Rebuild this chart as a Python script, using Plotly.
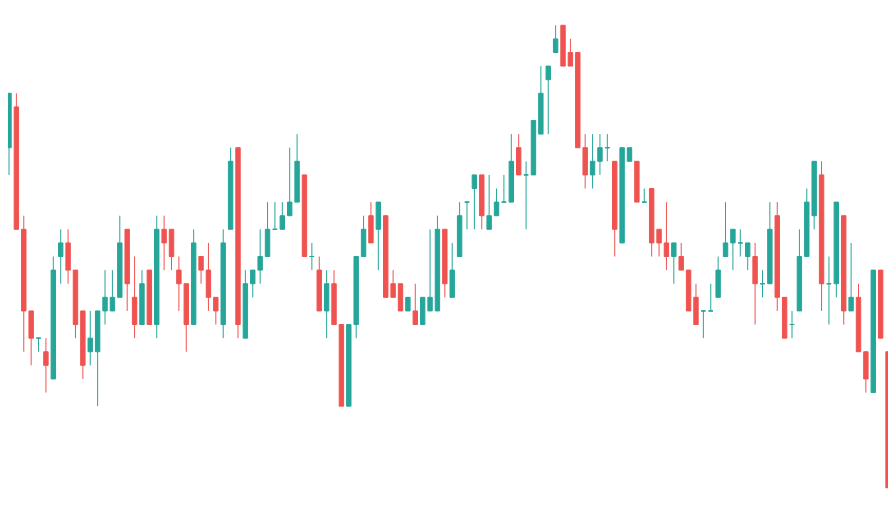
import plotly.graph_objects as go

# one entry per candle, left to right
opens = [25, 28, 19, 13, 11, 10, 8, 17, 18, 16, 13, 10, 10, 13, 13, 14, 19, 14, 12, 16,
         12, 19, 19, 16, 15, 12, 17, 16, 14, 12, 19, 25, 11, 15, 16, 17, 19, 19, 20, 21,
         23, 17, 16, 13, 15, 12, 6, 12, 17, 20, 19, 20, 15, 15, 13, 13, 12, 13, 13, 19,
         14, 17, 21, 22, 23, 19, 20, 21, 21, 25, 23, 23, 26, 30, 32, 34, 32, 32, 25, 23,
         24, 25, 24, 18, 24, 24, 21, 22, 19, 18, 17, 17, 16, 14, 13, 13, 14, 17, 18, 18,
         17, 17, 15, 15, 20, 14, 12, 13, 17, 20, 23, 15, 15, 20, 13, 14, 10, 7, 16, 10]
highs = [29, 29, 20, 13, 11, 11, 17, 19, 19, 16, 13, 13, 13, 16, 16, 20, 19, 17, 16, 16,
         20, 20, 19, 17, 15, 19, 17, 18, 14, 19, 25, 25, 16, 16, 19, 21, 21, 21, 25, 26,
         23, 18, 17, 16, 16, 12, 12, 17, 20, 21, 21, 20, 16, 15, 14, 15, 14, 19, 20, 19,
         18, 21, 21, 23, 23, 23, 22, 23, 26, 26, 24, 27, 31, 31, 34, 34, 33, 32, 26, 26,
         26, 26, 24, 25, 25, 24, 22, 22, 19, 21, 18, 18, 16, 15, 13, 15, 17, 21, 19, 19,
         18, 18, 16, 21, 21, 14, 13, 19, 22, 24, 24, 17, 21, 20, 18, 15, 10, 16, 16, 10]
lows = [23, 19, 10, 9, 10, 7, 8, 15, 15, 11, 8, 9, 6, 12, 13, 14, 13, 11, 12, 12,
        11, 16, 16, 13, 10, 12, 15, 13, 12, 11, 19, 11, 11, 14, 15, 17, 19, 19, 20, 21,
        17, 16, 13, 11, 12, 6, 6, 11, 17, 18, 16, 14, 14, 13, 13, 12, 12, 13, 13, 14,
        14, 17, 19, 19, 19, 19, 20, 21, 21, 23, 19, 23, 26, 26, 32, 31, 31, 25, 22, 22,
        23, 24, 17, 18, 24, 21, 21, 17, 17, 16, 15, 16, 13, 12, 11, 13, 14, 17, 16, 17,
        16, 12, 14, 15, 13, 11, 11, 13, 17, 19, 13, 12, 14, 12, 13, 10, 7, 7, 11, 0]
closes = [29, 19, 13, 11, 11, 9, 16, 18, 16, 12, 9, 11, 13, 14, 14, 18, 15, 12, 15, 12,
          19, 18, 17, 15, 12, 18, 16, 14, 13, 18, 24, 12, 15, 16, 17, 19, 19, 20, 21, 24,
          17, 17, 13, 15, 12, 6, 12, 17, 19, 18, 21, 14, 14, 13, 14, 12, 14, 14, 19, 15,
          16, 20, 21, 23, 20, 20, 21, 21, 24, 23, 23, 27, 29, 31, 33, 31, 31, 25, 23, 24,
          25, 25, 19, 25, 25, 21, 21, 18, 18, 17, 18, 16, 13, 12, 13, 13, 16, 18, 19, 18,
          18, 15, 15, 19, 14, 11, 12, 17, 21, 24, 15, 15, 21, 13, 14, 10, 8, 16, 11, 0]

UP = "#26a69a"
DOWN = "#ef5350"

x = list(range(len(opens)))
up = [c >= o for o, c in zip(opens, closes)]


def pick(values, keep):
    return [v if k else None for v, k in zip(values, keep)]


fig = go.Figure()
for keep, color in [(up, UP), ([not u for u in up], DOWN)]:
    fig.add_trace(go.Candlestick(
        x=x,
        open=pick(opens, keep),
        high=pick(highs, keep),
        low=pick(lows, keep),
        close=pick(closes, keep),
        increasing=dict(line=dict(color=color, width=1), fillcolor=color),
        decreasing=dict(line=dict(color=color, width=1), fillcolor=color),
        whiskerwidth=0,
        showlegend=False,
    ))

# the page body keeps its 8px margin, so the ranges are shifted to suit
fig.update_layout(
    width=896,
    height=512,
    margin=dict(l=0, r=0, t=0, b=0),
    plot_bgcolor="white",
    paper_bgcolor="white",
    boxmode="overlay",
    boxgap=0.15,
    xaxis=dict(range=[-0.135, 121.16], visible=False, rangeslider_visible=False),
    yaxis=dict(range=[-2.37, 35.27], visible=False),
)

fig.write_html("out.html")
